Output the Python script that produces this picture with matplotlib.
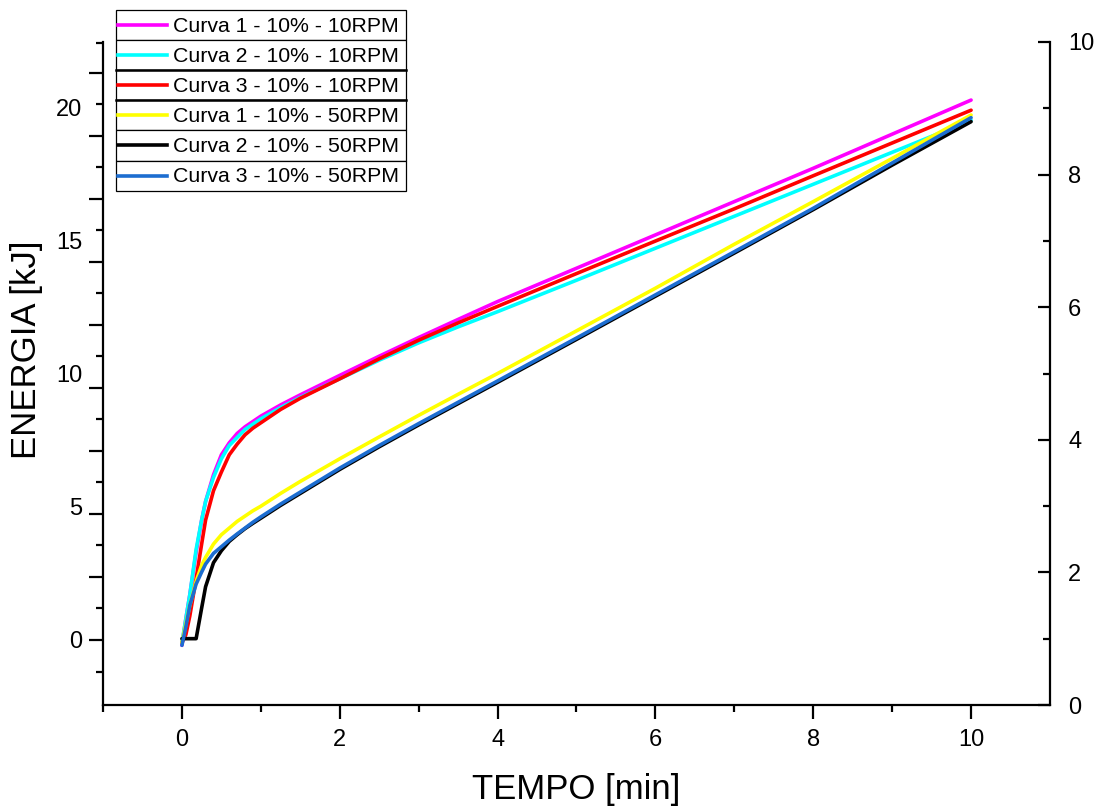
import matplotlib
matplotlib.use('Agg')
import matplotlib.pyplot as plt
from matplotlib.lines import Line2D
from matplotlib.patches import Rectangle

plt.rcParams['font.family'] = ['Liberation Sans', 'DejaVu Sans']

# ---------------- data ----------------
time_min = [0, 0.05, 0.1, 0.18, 0.25, 0.3, 0.4, 0.5, 0.6, 0.7, 0.8, 0.9, 1.0,
            1.25, 1.5, 2, 2.5, 3, 3.5, 4, 5, 6, 7, 8, 9, 10]

curva1_10rpm = [-0.2, 0.8, 1.7, 3.3, 4.5, 5.2, 6.2, 6.95, 7.4, 7.75, 8.0, 8.2, 8.4,
                8.82, 9.2, 9.93, 10.65, 11.35, 12.03, 12.7, 13.95, 15.2, 16.45, 17.7, 18.98, 20.26]
curva2_10rpm = [-0.1, 0.8, 1.7, 3.4, 4.5, 5.2, 6.1, 6.8, 7.3, 7.6, 7.9, 8.1, 8.3,
                8.72, 9.1, 9.8, 10.5, 11.15, 11.75, 12.32, 13.5, 14.7, 15.9, 17.1, 18.3, 19.5]
curva3_10rpm = [-0.1, 0.2, 0.9, 2.3, 3.6, 4.5, 5.6, 6.3, 6.95, 7.35, 7.7, 7.95, 8.15,
                8.65, 9.07, 9.8, 10.55, 11.25, 11.9, 12.52, 13.75, 14.97, 16.18, 17.42, 18.65, 19.88]
curva1_50rpm = [-0.1, 0.6, 1.3, 2.2, 2.8, 3.1, 3.6, 3.95, 4.2, 4.45, 4.65, 4.85, 5.02,
                5.5, 5.95, 6.8, 7.62, 8.43, 9.22, 10.0, 11.6, 13.2, 14.85, 16.45, 18.07, 19.7]
curva2_50rpm = [0.05, 0.05, 0.05, 0.05, 1.2, 2.0, 2.9, 3.35, 3.7, 3.95, 4.18, 4.38, 4.57,
                5.05, 5.5, 6.4, 7.25, 8.07, 8.87, 9.67, 11.28, 12.9, 14.52, 16.15, 17.82, 19.45]
curva3_50rpm = [-0.2, 0.5, 1.3, 2.1, 2.55, 2.85, 3.25, 3.5, 3.75, 3.98, 4.2, 4.42, 4.62,
                5.1, 5.55, 6.45, 7.3, 8.12, 8.92, 9.72, 11.33, 12.95, 14.57, 16.2, 17.9, 19.6]

labels = ['Curva 1 - 10% - 10RPM', 'Curva 2 - 10% - 10RPM', 'Curva 3 - 10% - 10RPM',
          'Curva 1 - 10% - 50RPM', 'Curva 2 - 10% - 50RPM', 'Curva 3 - 10% - 50RPM']
series = [curva1_10rpm, curva2_10rpm, curva3_10rpm, curva1_50rpm, curva2_50rpm, curva3_50rpm]
colors = ['#FF00FF', '#00FFFF', '#FF0000', '#FFFF00', '#000000', '#1C6DD0']

left_labels = [0, 5, 10, 15, 20]
left_major_marks = [0, 2.364, 4.728, 7.092, 9.456, 11.82, 14.184, 16.548, 18.912, 21.276]
left_minor_marks = [-1.182, 1.182, 3.546, 5.91, 8.274, 10.638, 13.002, 15.366, 17.73, 20.094, 22.4]
x_major = [0, 2, 4, 6, 8, 10]
x_minor = [-1, 1, 3, 5, 7, 9]
right_major = [0, 2, 4, 6, 8, 10]
right_minor = [1, 3, 5, 7, 9]

# ---------------- figure ----------------
W, H = 1102, 807
fig = plt.figure(figsize=(W / 100, H / 100), dpi=100)
ax = fig.add_axes([103 / W, 1 - 705 / H, (1050 - 103) / W, (705 - 42) / H])

for ys, c in zip(series, colors):
    ax.plot(time_min, ys, color=c, lw=2.6, solid_joinstyle='round', solid_capstyle='round')

ax.set_xlim(-1, 11)
ax.set_ylim(-(705 - 640) / 26.65, (640 - 42) / 26.65)

for s in ['top', 'right']:
    ax.spines[s].set_visible(False)
for s in ['left', 'bottom']:
    ax.spines[s].set_linewidth(1.6)

ax.set_xticks(x_major)
ax.set_xticks(x_minor, minor=True)
ax.tick_params(axis='x', which='major', direction='out', length=10, width=1.6,
               labelsize=17, pad=7)
ax.tick_params(axis='x', which='minor', direction='out', length=5, width=1.6)

ax.set_yticks(left_major_marks)
ax.set_yticks(left_minor_marks, minor=True)
ax.tick_params(axis='y', which='major', direction='out', length=10, width=1.6, labelleft=False)
ax.tick_params(axis='y', which='minor', direction='out', length=5, width=1.6)

sec = ax.secondary_yaxis('left')
sec.set_yticks(left_labels)
sec.tick_params(axis='y', length=0, labelsize=17, pad=15)
sec.spines['left'].set_visible(False)

ax2 = ax.twinx()
ax2.set_ylim(0, 10)
for s in ['top', 'left', 'bottom']:
    ax2.spines[s].set_visible(False)
ax2.spines['right'].set_linewidth(1.6)
ax2.set_yticks(right_major)
ax2.set_yticks(right_minor, minor=True)
ax2.tick_params(axis='y', which='major', direction='in', length=9, width=1.6,
                labelsize=17, pad=13)
ax2.tick_params(axis='y', which='minor', direction='in', length=5, width=1.6)

fig.text(27 / W, 1 - 350 / H, 'ENERGIA [kJ]', rotation=90, ha='center', va='center', fontsize=25)
fig.text(576 / W, 1 - 789 / H, 'TEMPO [min]', ha='center', va='center', fontsize=25)

# ---------------- legend (boxed rows) ----------------
def fx(x):
    return x / W

def fy(y):
    return 1 - y / H

lx0, lx1, ly0, row_h = 116, 406, 10, 30.1
for i, (lab, c) in enumerate(zip(labels, colors)):
    top = ly0 + i * row_h
    bot = top + row_h
    fig.patches.append(Rectangle((fx(lx0), fy(bot)), fx(lx1) - fx(lx0), fy(top) - fy(bot),
                                 transform=fig.transFigure, facecolor='white',
                                 edgecolor='black', lw=0.9, zorder=5))
    yc = top + row_h / 2
    fig.lines.append(Line2D([fx(118), fx(167)], [fy(yc), fy(yc)], color=c, lw=2.6,
                            transform=fig.transFigure, zorder=6))
    fig.text(fx(173), fy(yc + 1), lab, ha='left', va='center', fontsize=15.3, zorder=7)
for yb in [70, 100]:
    fig.lines.append(Line2D([fx(lx0), fx(lx1)], [fy(yb), fy(yb)], color='black', lw=1.8,
                            transform=fig.transFigure, zorder=6))

fig.savefig('out.png', dpi=100)
